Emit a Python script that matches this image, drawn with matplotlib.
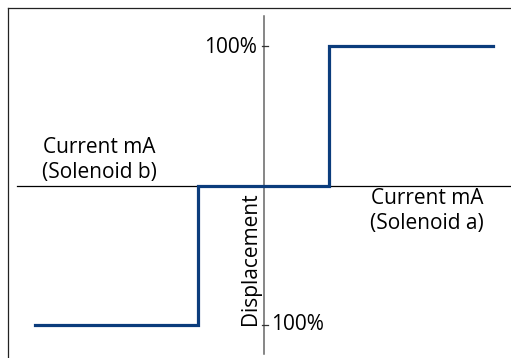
import matplotlib
matplotlib.use("Agg")
import matplotlib.pyplot as plt

# Data: current (normalised, solenoid b negative / solenoid a positive) vs displacement (%)
current = [-0.996, -0.287, -0.287, 0.283, 0.283, 0.996]
displacement = [-100, -100, 0, 0, 100, 100]
tick_values = [100, -100]
tick_labels = ["100%", "100%"]

plt.rcParams['font.family'] = ['Open Sans', 'DejaVu Sans']

PX = 230.0       # pixels per current unit
PY = 139.5 / 100  # pixels per displacement %
CX, CY = 264, 185.5

def xd(px):
    return (px - CX) / PX

def yd(py):
    return (CY - py) / PY

fig = plt.figure(figsize=(5.11, 3.58), dpi=100)
ax = fig.add_axes([0, 0, 1, 1])
ax.set_xlim(xd(0), xd(511))
ax.set_ylim(yd(358), yd(0))
ax.axis('off')

# frame (left and top borders)
ax.plot([xd(8), xd(8)], [yd(370), yd(8)], color='#222222', lw=0.9, clip_on=False)
ax.plot([xd(8), xd(520)], [yd(8), yd(8)], color='#222222', lw=0.9, clip_on=False)

# axes
ax.plot([xd(17), xd(520)], [0, 0], color='black', lw=0.9)
ax.plot([0, 0], [yd(354), yd(16)], color='#666666', lw=1.1)

# ticks
for v in tick_values:
    ax.plot([xd(262), xd(268)], [v, v], color='#333333', lw=0.9)

# step line
ax.plot(current, displacement, color='#0b3c7c', lw=2.3, solid_joinstyle='miter')

fs = 15
ax.text(xd(257), yd(47.5), tick_labels[0], ha='right', va='center', fontsize=fs)
ax.text(xd(271), yd(324), tick_labels[1], ha='left', va='center', fontsize=fs)
ax.text(xd(99), yd(160), "Current mA\n(Solenoid b)", ha='center', va='center',
        fontsize=fs, linespacing=1.25)
ax.text(xd(427), yd(211), "Current mA\n(Solenoid a)", ha='center', va='center',
        fontsize=fs, linespacing=1.25)
ax.text(xd(261), yd(325), "Displacement", rotation=90, ha='right', va='bottom', fontsize=fs)

fig.savefig("out.png", dpi=100)
